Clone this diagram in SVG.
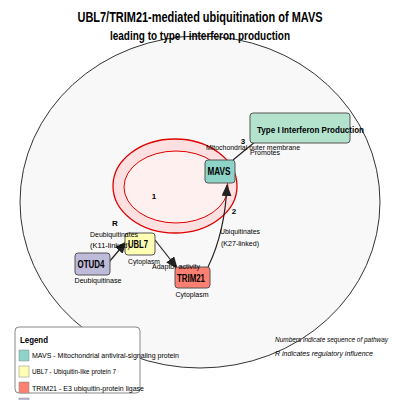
<svg xmlns="http://www.w3.org/2000/svg" width="400" height="400" viewBox="0 0 400 400">
<style>
text{font-family:"Liberation Sans",Arial,sans-serif;fill:#000}
.t{font-size:14px;font-weight:bold;text-anchor:middle}
.st{font-size:12px;font-weight:bold;text-anchor:middle}
.n{font-size:10px;font-weight:bold;text-anchor:middle}
.l{font-size:8px;text-anchor:middle}
.num{font-size:8px;font-weight:bold;text-anchor:middle}
.lg{font-size:7.5px}
.note{font-size:7.5px;font-style:italic}
.node{stroke:#555;stroke-width:1}
.edge{fill:none;stroke:#222;stroke-width:1.2}
</style>
<defs>
<marker id="ah" viewBox="0 0 12 10" refX="11" refY="5" markerWidth="12" markerHeight="10" markerUnits="userSpaceOnUse" orient="auto">
<path d="M0,0 L12,5 L0,10 z" fill="#222"/>
</marker>
</defs>
<rect width="400" height="400" fill="#fff"/>
<g id="cell">
<ellipse cx="200" cy="202" rx="180" ry="166" fill="#f8f8f8" stroke="#333" stroke-width="1"/>
</g>
<text class="t" x="200" y="22" textLength="245" lengthAdjust="spacingAndGlyphs">UBL7/TRIM21-mediated ubiquitination of MAVS</text>
<text class="st" x="200" y="40" textLength="180" lengthAdjust="spacingAndGlyphs">leading to type I interferon production</text>
<g id="mitochondrion">
<ellipse cx="175" cy="186" rx="62" ry="47" fill="#ffe0e0" stroke="#e00000" stroke-width="1.3"/>
<ellipse cx="176" cy="187" rx="52" ry="36" fill="#fff0f0" stroke="#e00000" stroke-width="1"/>
<text class="num" x="154" y="199">1</text>
</g>
<g id="connectors">
<line class="edge" x1="233" y1="160" x2="273" y2="127" marker-end="url(#ah)"/>
<path class="edge" d="M208,267 Q225,232 227,185" marker-end="url(#ah)"/>
<line class="edge" x1="155" y1="240" x2="177" y2="268" marker-end="url(#ah)"/>
<line class="edge" x1="109" y1="262" x2="126" y2="242" marker-end="url(#ah)"/>
</g>
<g id="IFN">
<rect class="node" x="250" y="113" width="100" height="30" rx="3" fill="#b3e2cd"/>
<text x="257" y="133" style="font-size:9px;font-weight:bold" textLength="107" lengthAdjust="spacingAndGlyphs">Type I Interferon Production</text>
</g>
<g id="MAVS">
<rect class="node" x="205" y="160" width="30" height="23" rx="3" fill="#8dd3c7"/>
<text class="n" x="219" y="175" textLength="23" lengthAdjust="spacingAndGlyphs">MAVS</text>
</g>
<g id="UBL7">
<rect class="node" x="125" y="233" width="30" height="22" rx="3" fill="#ffffb3" stroke="#999"/>
<text class="n" x="138" y="248" textLength="20" lengthAdjust="spacingAndGlyphs">UBL7</text>
<text class="l" x="144" y="264" textLength="32" lengthAdjust="spacingAndGlyphs">Cytoplasm</text>
</g>
<g id="OTUD4">
<rect class="node" x="75" y="253" width="35" height="22" rx="3" fill="#bebada"/>
<text class="n" x="91" y="268" textLength="27" lengthAdjust="spacingAndGlyphs">OTUD4</text>
<text class="l" x="98" y="283" textLength="47" lengthAdjust="spacingAndGlyphs">Deubiquitinase</text>
</g>
<g id="TRIM21">
<rect class="node" x="175" y="267" width="35" height="21" rx="3" fill="#fb8072"/>
<text class="n" x="191" y="282" textLength="28" lengthAdjust="spacingAndGlyphs">TRIM21</text>
<text class="l" x="192" y="297" textLength="33" lengthAdjust="spacingAndGlyphs">Cytoplasm</text>
</g>
<g id="labels">
<text class="num" x="243" y="144">3</text>
<text class="l" x="253" y="150" textLength="94" lengthAdjust="spacingAndGlyphs">Mitochondrial outer membrane</text>
<text class="l" x="265" y="155" textLength="30" lengthAdjust="spacingAndGlyphs">Promotes</text>
<text class="num" x="234" y="214">2</text>
<text class="l" x="240" y="234" textLength="40" lengthAdjust="spacingAndGlyphs">Ubiquitinates</text>
<text class="l" x="240" y="246" textLength="38" lengthAdjust="spacingAndGlyphs">(K27-linked)</text>
<text class="num" x="115" y="226">R</text>
<text class="l" x="114" y="237" textLength="48" lengthAdjust="spacingAndGlyphs">Deubiquitinates</text>
<text class="l" x="110" y="248" textLength="40" lengthAdjust="spacingAndGlyphs">(K11-linked)</text>
<text class="l" x="176" y="269" textLength="48" lengthAdjust="spacingAndGlyphs">Adaptor activity</text>
</g>
<g id="legend">
<rect x="15" y="327" width="125" height="66" rx="4" fill="#fff" stroke="#888"/>
<text x="20" y="343" style="font-size:9px;font-weight:bold" textLength="28" lengthAdjust="spacingAndGlyphs">Legend</text>
<rect x="19" y="350" width="10" height="11" fill="#8dd3c7" stroke="#888" stroke-width="0.5"/>
<text class="lg" x="32" y="358" textLength="147" lengthAdjust="spacingAndGlyphs">MAVS - Mitochondrial antiviral-signaling protein</text>
<rect x="19" y="366" width="10" height="11" fill="#ffffb3" stroke="#888" stroke-width="0.5"/>
<text class="lg" x="32" y="374" textLength="84" lengthAdjust="spacingAndGlyphs">UBL7 - Ubiquitin-like protein 7</text>
<rect x="19" y="382" width="10" height="11" fill="#fb8072" stroke="#888" stroke-width="0.5"/>
<text class="lg" x="32" y="391" textLength="112" lengthAdjust="spacingAndGlyphs">TRIM21 - E3 ubiquitin-protein ligase</text>
<rect x="19" y="398" width="10" height="11" fill="#bebada" stroke="#888" stroke-width="0.5"/>
</g>
<g id="notes">
<text class="note" x="275" y="342" textLength="113" lengthAdjust="spacingAndGlyphs">Numbers indicate sequence of pathway</text>
<text class="note" x="275" y="356" textLength="98" lengthAdjust="spacingAndGlyphs">R indicates regulatory influence</text>
</g>
</svg>
